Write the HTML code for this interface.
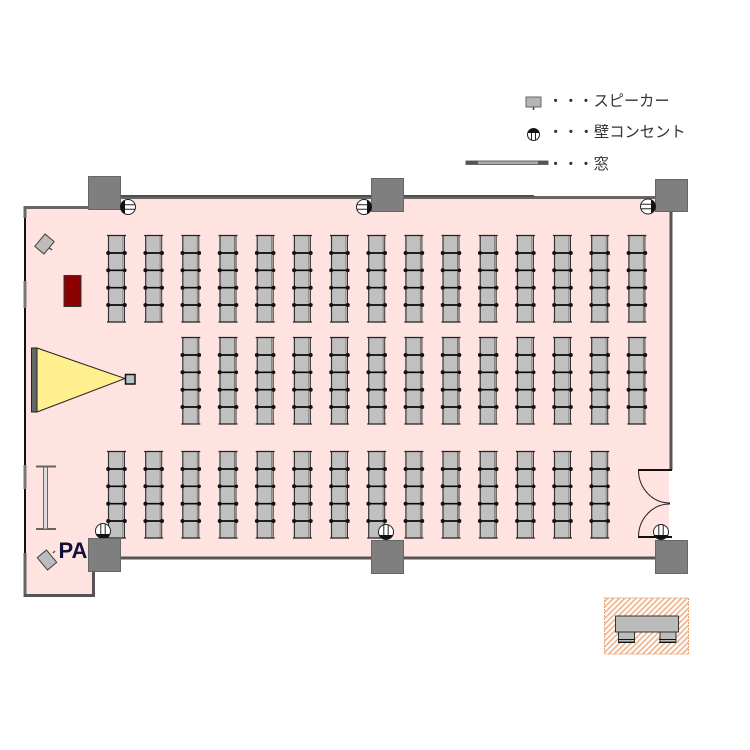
<!DOCTYPE html>
<html><head><meta charset="utf-8"><style>
html,body{margin:0;padding:0;background:#fff;width:750px;height:750px;overflow:hidden}
svg{display:block}
text{font-family:"Liberation Sans","Noto Sans CJK JP",sans-serif}
</style></head><body>
<svg width="750" height="750" viewBox="0 0 750 750" xmlns="http://www.w3.org/2000/svg">
<defs>
<pattern id="h" width="4" height="4" patternUnits="userSpaceOnUse" patternTransform="rotate(45)"><rect width="4" height="4" fill="#fff"/><rect width="1.700" height="4" fill="#f0b48c"/></pattern>
<g id="s">
<rect x="1.500" y="0" width="14.500" height="87" fill="#c0c0c0"/>
<path d="M1.500 0V87" stroke="#333" stroke-width="1.200" fill="none"/>
<path d="M16 0V87" stroke="#777" stroke-width="1" fill="none"/>
<path d="M17.500 0V87" stroke="#333" stroke-width="1" fill="none"/>
<path d="M0 0.500H19M0 87H19" stroke="#222" stroke-width="1.300" fill="none"/>
<path d="M0 18H19M0 35.300H19M0 52.700H19M0 70H19" stroke="#0a0a0a" stroke-width="1.700" fill="none"/>
<g fill="#111"><circle cx="1.200" cy="18" r="2"/><circle cx="17.800" cy="18" r="2"/><circle cx="1.200" cy="35.300" r="2"/><circle cx="17.800" cy="35.300" r="1.800"/><circle cx="1.200" cy="52.700" r="2"/><circle cx="17.800" cy="52.700" r="2"/><circle cx="1.200" cy="70" r="2"/><circle cx="17.800" cy="70" r="2"/></g>
</g>
<g id="o">
<circle cx="0" cy="0" r="7.500" fill="#fff" stroke="#222" stroke-width="1"/>
<path d="M-2.200 -7V3.500M2.200 -7V3.500" stroke="#222" stroke-width="1"/>
<path d="M-7 3A7.600 7.600 0 0 0 7 3Z" fill="#111"/>
</g>
</defs>

<!-- room -->
<path d="M26 209H121V199H670V470H669V540H655V557H120V570H92V595H26Z" fill="#ffe3e0"/>

<!-- walls -->
<g fill="none" stroke-linejoin="miter">
<path d="M121 197.500H655" stroke="#666" stroke-width="3"/>
<path d="M121 195.800H534" stroke="#111" stroke-width="1"/>
<path d="M24 207.500H90" stroke="#666" stroke-width="3"/>
<path d="M25 218V553" stroke="#111" stroke-width="2"/>
<path d="M25 206V218M25 553V597" stroke="#666" stroke-width="3"/>
<path d="M25 281V308M25 465V489" stroke="#777" stroke-width="3"/>
<path d="M24 595.500H93.500V568" stroke="#555" stroke-width="3"/>
<path d="M118 558H656" stroke="#555" stroke-width="3"/>
<path d="M671 205V470" stroke="#555" stroke-width="3"/>
<path d="M638 470H672" stroke="#111" stroke-width="2"/>
<path d="M638 537H672" stroke="#111" stroke-width="2"/>
<path d="M638.500 470A31 33 0 0 0 670 503M638.500 537A31 33 0 0 1 670 504" stroke="#222" stroke-width="1"/>
</g>

<!-- pillars -->
<g fill="#7f7f7f" stroke="#666" stroke-width="1">
<rect x="88.500" y="176.500" width="32" height="33"/>
<rect x="371.500" y="178.500" width="32" height="33"/>
<rect x="655.500" y="179.500" width="32" height="32"/>
<rect x="371.500" y="540.500" width="32" height="33"/>
<rect x="655.500" y="540.500" width="32" height="33"/>
</g>

<!-- seats top -->
<use href="#s" x="107" y="235"/><use href="#s" x="144.200" y="235"/><use href="#s" x="181.300" y="235"/><use href="#s" x="218.500" y="235"/><use href="#s" x="255.700" y="235"/><use href="#s" x="292.900" y="235"/><use href="#s" x="330" y="235"/><use href="#s" x="367.200" y="235"/><use href="#s" x="404.400" y="235"/><use href="#s" x="441.500" y="235"/><use href="#s" x="478.700" y="235"/><use href="#s" x="515.900" y="235"/><use href="#s" x="553" y="235"/><use href="#s" x="590.200" y="235"/><use href="#s" x="627.400" y="235"/>
<!-- seats middle -->
<use href="#s" x="181.300" y="337"/><use href="#s" x="218.500" y="337"/><use href="#s" x="255.700" y="337"/><use href="#s" x="292.900" y="337"/><use href="#s" x="330" y="337"/><use href="#s" x="367.200" y="337"/><use href="#s" x="404.400" y="337"/><use href="#s" x="441.500" y="337"/><use href="#s" x="478.700" y="337"/><use href="#s" x="515.900" y="337"/><use href="#s" x="553" y="337"/><use href="#s" x="590.200" y="337"/><use href="#s" x="627.400" y="337"/>
<!-- seats bottom -->
<use href="#s" x="107" y="451"/><use href="#s" x="144.200" y="451"/><use href="#s" x="181.300" y="451"/><use href="#s" x="218.500" y="451"/><use href="#s" x="255.700" y="451"/><use href="#s" x="292.900" y="451"/><use href="#s" x="330" y="451"/><use href="#s" x="367.200" y="451"/><use href="#s" x="404.400" y="451"/><use href="#s" x="441.500" y="451"/><use href="#s" x="478.700" y="451"/><use href="#s" x="515.900" y="451"/><use href="#s" x="553" y="451"/><use href="#s" x="590.200" y="451"/>

<!-- wall sockets -->
<use href="#o" transform="translate(128 207) rotate(90)"/>
<use href="#o" transform="translate(364 207) rotate(-90)"/>
<use href="#o" transform="translate(648 206.500) rotate(-90)"/>
<use href="#o" transform="translate(103 531)"/>
<use href="#o" transform="translate(386 532)"/>
<use href="#o" transform="translate(661 532)"/>

<!-- speakers -->
<g fill="#bcbcbc" stroke="#444" stroke-width="1">
<rect x="-8" y="-6" width="16" height="12" transform="translate(44.500 244) rotate(-50)"/>
<rect x="-8" y="-6" width="16" height="12" transform="translate(47 560) rotate(50)"/>
</g>
<path d="M49.500 248L52 250M53 553L55 551" stroke="#333" stroke-width="1.200"/>

<!-- red table -->
<rect x="64" y="275.500" width="17" height="31" fill="#8b0000" stroke="#333" stroke-width="1"/>

<!-- projector screen -->
<path d="M37 348L125 378.500L37 412Z" fill="#ffef8e" stroke="#222" stroke-width="1"/>
<rect x="31.500" y="348" width="5.500" height="64" fill="#666" stroke="#222" stroke-width="1"/>
<rect x="125.500" y="374.500" width="9.500" height="9.500" fill="#b8c4c4" stroke="#111" stroke-width="1.500"/>

<!-- whiteboard stand -->
<path d="M36 466.500H56M36 529H56" stroke="#665" stroke-width="2"/>
<rect x="43.500" y="467" width="4" height="62" fill="#ddd" stroke="#666" stroke-width="1"/>

<!-- PA -->
<text x="58.500" y="558" font-size="22" font-weight="700" fill="#10103a">PA</text>
<rect x="88.500" y="538.500" width="32" height="33" fill="#7f7f7f" stroke="#666" stroke-width="1"/>

<!-- legend -->
<rect x="526" y="97" width="15" height="10" fill="#b5b5b5" stroke="#666" stroke-width="1"/>
<path d="M533.500 107V110" stroke="#444" stroke-width="1.500"/>
<text x="548" y="106" font-size="15.200" fill="#333">・・・スピーカー</text>
<circle cx="533.500" cy="134.500" r="6" fill="#fff" stroke="#222" stroke-width="1"/>
<path d="M527.700 133A6 6 0 0 1 539.300 133Z" fill="#111"/>
<path d="M531.500 133V140.500M535.500 133V140.500" stroke="#222" stroke-width="1"/>
<text x="548" y="137" font-size="15.300" fill="#333">・・・壁コンセント</text>
<rect x="466" y="161" width="82" height="3.500" fill="#aaa" stroke="#666" stroke-width="1"/>
<path d="M466 162.500H478M538 162.500H548" stroke="#555" stroke-width="3"/>
<text x="548" y="169" font-size="15.200" fill="#333">・・・窓</text>

<!-- bottom right inset -->
<rect x="604.500" y="598" width="84" height="56" fill="url(#h)" stroke="#e8a070" stroke-width="1" stroke-dasharray="2 1"/>
<rect x="615.500" y="616" width="63" height="16" fill="#bcbcbc" stroke="#333" stroke-width="1"/>
<g fill="#bcbcbc" stroke="#333" stroke-width="1">
<rect x="618.500" y="632" width="16" height="10"/>
<rect x="660" y="632" width="16" height="10"/>
</g>
<path d="M618 639.500H635M618 642.500H635M659 639.500H676M659 642.500H676" stroke="#111" stroke-width="1"/>
</svg>
</body></html>
